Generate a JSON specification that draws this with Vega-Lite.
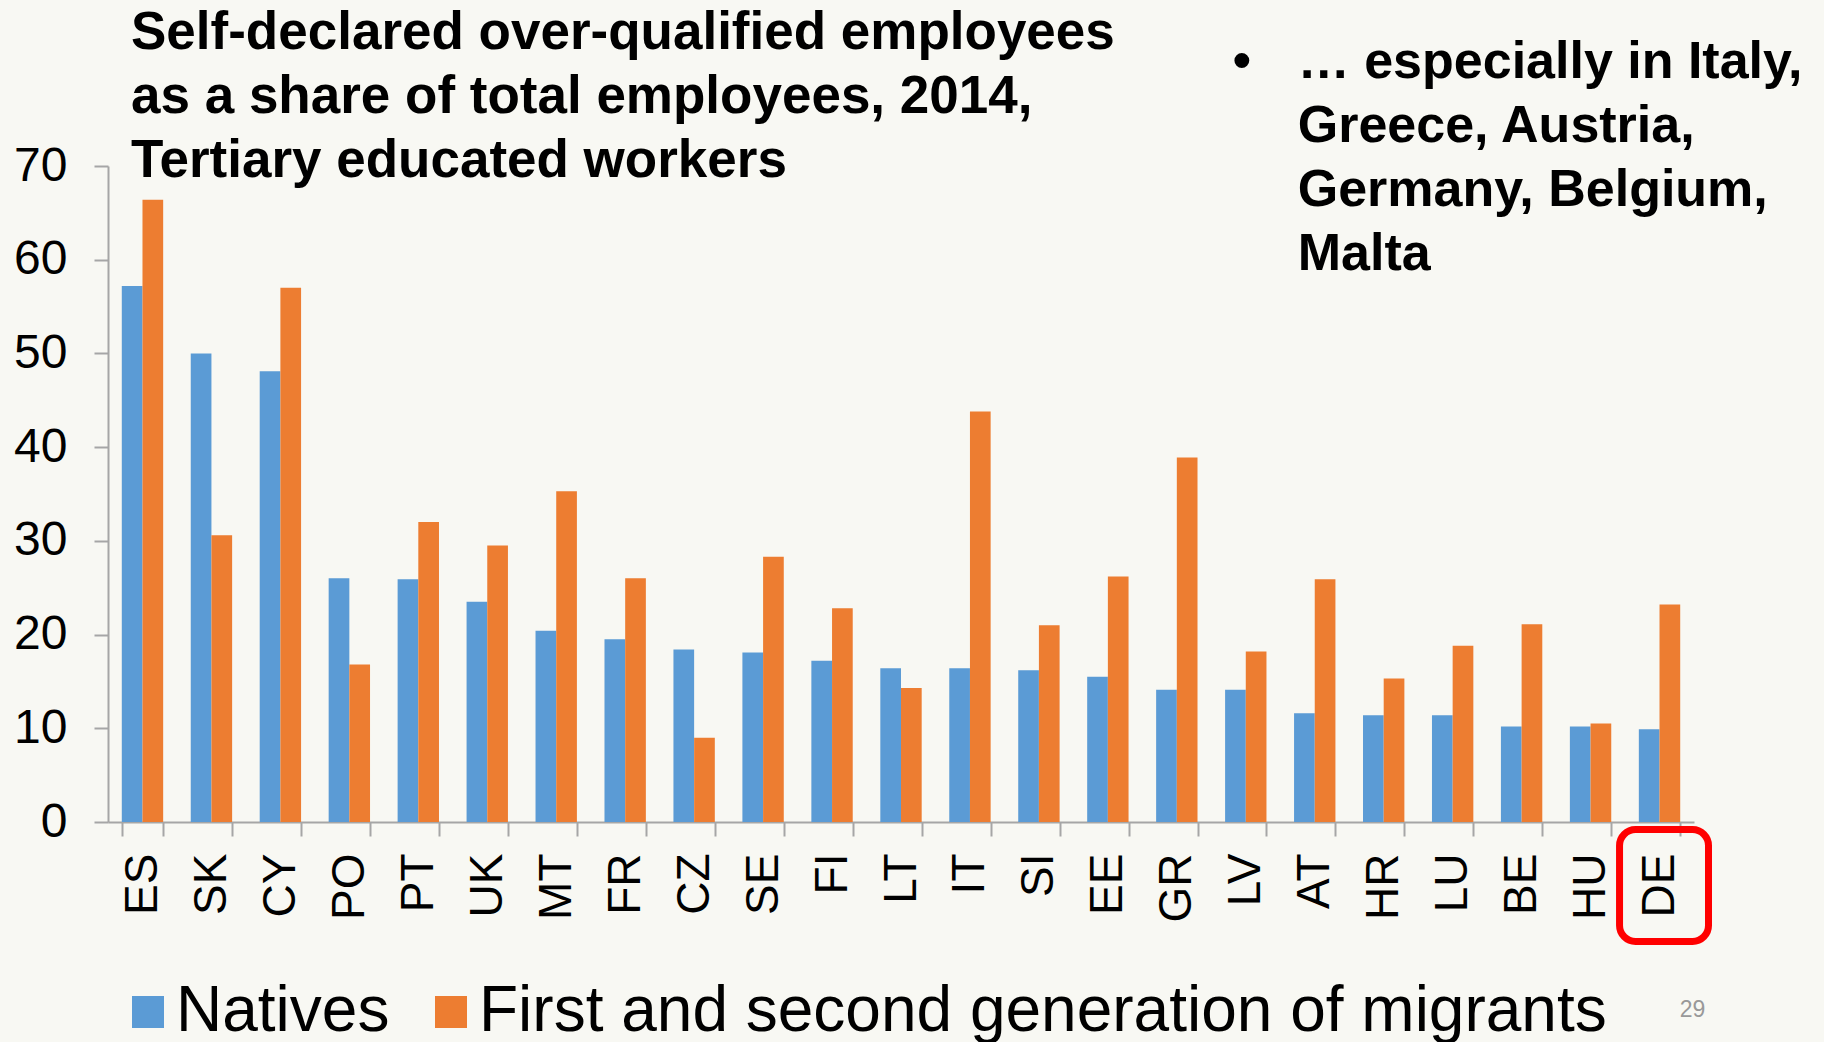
{
  "$schema": "https://vega.github.io/schema/vega-lite/v6.json",
  "width": 1586,
  "height": 656,
  "autosize": "none",
  "padding": {"left": 108, "top": 166, "right": 130, "bottom": 220},
  "background": "#F8F8F3",
  "config": {"view": {"stroke": null}, "font": "Liberation Sans"},
  "title": {
    "text": ["Self-declared over-qualified employees", "as a share of total employees, 2014,", "Tertiary educated workers"],
    "anchor": "start",
    "frame": "group",
    "font": "Liberation Sans",
    "fontSize": 53,
    "fontWeight": "bold",
    "lineHeight": 64,
    "color": "#000000",
    "offset": 0,
    "dx": 23,
    "dy": 152
  },
  "data": {
    "values": [
      {"country": "ES", "Natives": 57.2, "First and second generation of migrants": 66.4},
      {"country": "SK", "Natives": 50.0, "First and second generation of migrants": 30.6},
      {"country": "CY", "Natives": 48.1, "First and second generation of migrants": 57.0},
      {"country": "PO", "Natives": 26.0, "First and second generation of migrants": 16.8},
      {"country": "PT", "Natives": 25.9, "First and second generation of migrants": 32.0},
      {"country": "UK", "Natives": 23.5, "First and second generation of migrants": 29.5},
      {"country": "MT", "Natives": 20.4, "First and second generation of migrants": 35.3},
      {"country": "FR", "Natives": 19.5, "First and second generation of migrants": 26.0},
      {"country": "CZ", "Natives": 18.4, "First and second generation of migrants": 9.0},
      {"country": "SE", "Natives": 18.1, "First and second generation of migrants": 28.3},
      {"country": "FI", "Natives": 17.2, "First and second generation of migrants": 22.8},
      {"country": "LT", "Natives": 16.4, "First and second generation of migrants": 14.3},
      {"country": "IT", "Natives": 16.4, "First and second generation of migrants": 43.8},
      {"country": "SI", "Natives": 16.2, "First and second generation of migrants": 21.0},
      {"country": "EE", "Natives": 15.5, "First and second generation of migrants": 26.2},
      {"country": "GR", "Natives": 14.1, "First and second generation of migrants": 38.9},
      {"country": "LV", "Natives": 14.1, "First and second generation of migrants": 18.2},
      {"country": "AT", "Natives": 11.6, "First and second generation of migrants": 25.9},
      {"country": "HR", "Natives": 11.4, "First and second generation of migrants": 15.3},
      {"country": "LU", "Natives": 11.4, "First and second generation of migrants": 18.8},
      {"country": "BE", "Natives": 10.2, "First and second generation of migrants": 21.1},
      {"country": "HU", "Natives": 10.2, "First and second generation of migrants": 10.5},
      {"country": "DE", "Natives": 9.9, "First and second generation of migrants": 23.2}
    ]
  },
  "layer": [
    {
      "transform": [{"fold": ["Natives", "First and second generation of migrants"], "as": ["group", "value"]}],
      "mark": {"type": "bar"},
      "encoding": {
        "x": {
          "field": "country",
          "type": "nominal",
          "sort": null,
          "title": null,
          "scale": {
            "domain": ["ES","SK","CY","PO","PT","UK","MT","FR","CZ","SE","FI","LT","IT","SI","EE","GR","LV","AT","HR","LU","BE","HU","DE"],
            "paddingInner": 0.4,
            "paddingOuter": 0.2
          },
          "axis": {
            "labelAngle": 270,
            "labelAlign": "right",
            "labelBaseline": "middle",
            "labelFont": "Liberation Sans",
            "labelFontSize": 46,
            "labelColor": "#000000",
            "labelPadding": 17,
            "tickBand": "extent",
            "tickSize": 14,
            "tickWidth": 2,
            "tickColor": "#A6A6A6",
            "domainColor": "#A6A6A6",
            "domainWidth": 2
          }
        },
        "xOffset": {"field": "group", "type": "nominal", "sort": ["Natives", "First and second generation of migrants"]},
        "y": {
          "field": "value",
          "type": "quantitative",
          "title": null,
          "scale": {"domain": [0, 70], "nice": false},
          "axis": {
            "values": [0, 10, 20, 30, 40, 50, 60, 70],
            "grid": false,
            "labelFont": "Liberation Sans",
            "labelFontSize": 48,
            "labelColor": "#000000",
            "labelPadding": 27,
            "tickSize": 14,
            "tickWidth": 2,
            "tickColor": "#A6A6A6",
            "domainColor": "#A6A6A6",
            "domainWidth": 2
          }
        },
        "color": {
          "field": "group",
          "type": "nominal",
          "scale": {"domain": ["Natives", "First and second generation of migrants"], "range": ["#5B9BD5", "#ED7D31"]},
          "legend": {
            "title": null,
            "orient": "none",
            "legendX": 8,
            "legendY": 814,
            "direction": "horizontal",
            "symbolType": "square",
            "symbolSize": 1024,
            "symbolStrokeWidth": 0,
            "labelFont": "Liberation Sans",
            "labelFontSize": 64,
            "labelColor": "#000000",
            "labelOffset": -4,
            "columnPadding": 29,
            "padding": 0,
            "labelLimit": 0
          }
        }
      }
    },
    {
      "data": {"values": [{}]},
      "mark": {"type": "bar", "filled": false, "stroke": "#FF0000", "strokeWidth": 7, "cornerRadius": 16, "width": {"band": 2.15}, "xOffset": 4.5, "clip": false},
      "encoding": {
        "x": {"datum": "DE", "type": "nominal"},
        "y": {"datum": -0.8, "type": "quantitative", "scale": {"domain": [0, 70], "nice": false}},
        "y2": {"datum": -12.75}
      }
    },
    {
      "data": {"values": [{}]},
      "mark": {"type": "text", "text": "•", "align": "center", "baseline": "alphabetic", "font": "Liberation Sans", "fontSize": 52, "fontWeight": "bold", "color": "#000000", "dx": -4},
      "encoding": {
        "x": {"datum": "LV", "type": "nominal"},
        "y": {"datum": 79.4, "type": "quantitative", "scale": {"domain": [0, 70], "nice": false}}
      }
    },
    {
      "data": {"values": [{}]},
      "mark": {"type": "text", "text": ["… especially in Italy,", "Greece, Austria,", "Germany, Belgium,", "Malta"], "align": "left", "baseline": "alphabetic", "font": "Liberation Sans", "fontSize": 52, "fontWeight": "bold", "lineHeight": 64, "color": "#000000", "dx": -17},
      "encoding": {
        "x": {"datum": "AT", "type": "nominal"},
        "y": {"datum": 79.4, "type": "quantitative", "scale": {"domain": [0, 70], "nice": false}}
      }
    },
    {
      "data": {"values": [{}]},
      "mark": {"type": "text", "text": "29", "align": "center", "baseline": "alphabetic", "font": "Liberation Sans", "fontSize": 23, "color": "#999999", "dx": 33},
      "encoding": {
        "x": {"datum": "DE", "type": "nominal"},
        "y": {"datum": -20.8, "type": "quantitative", "scale": {"domain": [0, 70], "nice": false}}
      }
    }
  ]
}
